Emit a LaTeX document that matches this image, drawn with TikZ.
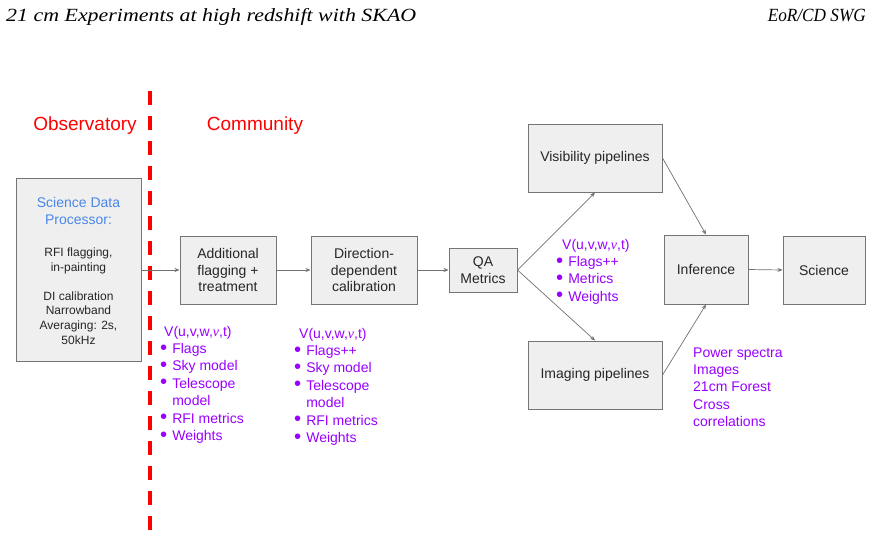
\documentclass[tikz,border=0pt]{standalone}
\usepackage{fontspec}
\setmainfont{Liberation Sans}
\newfontfamily\serifit{Liberation Serif}
\usetikzlibrary{arrows.meta}
\definecolor{boxfill}{HTML}{EFEFEF}
\definecolor{boxline}{HTML}{757575}
\definecolor{linegray}{HTML}{707070}
\definecolor{purp}{HTML}{9900FF}
\definecolor{sdpblue}{HTML}{4A86E8}
\definecolor{redline}{HTML}{FF0000}
\newcommand{\visfun}{V(u,v,w,{\serifit\itshape ν},t)}
\newcommand{\blt}{\raisebox{-0.6pt}{\scalebox{1.45}{\textbullet}}}
\begin{document}
\begin{tikzpicture}[x=1pt,y=-1pt,
  procbox/.style={draw=boxline,line width=1pt,fill=boxfill,inner sep=0pt,align=center,
    font=\fontsize{14}{16.5}\selectfont,text=black!85},
  conn/.style={draw=linegray,line width=0.7pt,-{Stealth[length=5pt,width=4pt]}},
  purplist/.style={inner sep=0pt,anchor=base west,text=purp,font=\fontsize{14}{17.4}\selectfont},
  headtxt/.style={inner sep=0pt,font=\serifit\itshape\fontsize{18.6}{22}\selectfont},
  sidetxt/.style={inner sep=0pt,text=redline,font=\fontsize{19}{22}\selectfont}]
\useasboundingbox (0,0) rectangle (872,536);
% header
\node[headtxt,anchor=base west] (h1) at (6,21) {\resizebox{410pt}{\height}{21 cm Experiments at high redshift with SKAO}};
\node[headtxt,anchor=base east] (h2) at (866,21) {\resizebox{98pt}{\height}{EoR/CD SWG}};
% divider
\draw[redline,line width=3.5pt,dash pattern=on 14pt off 11pt] (150,91) coordinate (dtop) -- (150,531) coordinate (dbot);
\node[sidetxt] (obs) at (85,126) {Observatory};
\node[sidetxt] (com) at (255,126) {Community};
% boxes
\node[procbox,minimum width=125pt,minimum height=183pt] (sdp) at (78.5,270) {};
\node[inner sep=0pt,align=center,text=sdpblue,font=\fontsize{14}{17}\selectfont] (sdpt) at (78.5,211) {Science Data\\Processor:};
\node[inner sep=0pt,align=center,text=black!85,font=\fontsize{12}{15}\selectfont] (sdpa) at (78.5,260.5) {RFI flagging,\\in-painting};
\node[inner sep=0pt,align=center,text=black!85,font=\fontsize{12}{14.6}\selectfont] (sdpb) at (78.5,318) {DI calibration\\Narrowband\\Averaging: 2s,\\50kHz};
\node[procbox,minimum width=96pt,minimum height=68pt] (add) at (228,270) {Additional\\flagging +\\treatment};
\node[procbox,minimum width=106pt,minimum height=68pt] (ddc) at (364,270) {Direction-\\dependent\\calibration};
\node[procbox,minimum width=68pt,minimum height=44pt,font=\fontsize{14}{17}\selectfont] (qa) at (483,270) {QA\\Metrics};
\node[procbox,minimum width=134pt,minimum height=68pt] (vis) at (595,158) {Visibility pipelines};
\node[procbox,minimum width=134pt,minimum height=68pt] (img) at (595,375) {Imaging pipelines};
\node[procbox,minimum width=84pt,minimum height=69pt] (inf) at (706,269.5) {Inference};
\node[procbox,minimum width=82pt,minimum height=68pt] (sci) at (824,270) {Science};
% connectors
\draw[conn] (sdp.east) -- (add.west);
\draw[conn] (add.east) -- (ddc.west);
\draw[conn] (ddc.east) -- (qa.west);
\draw[conn] (qa.east) -- (vis.south);
\draw[conn] (qa.east) -- (img.north);
\draw[conn] (vis.east) -- (inf.north);
\draw[conn] (img.east) -- (inf.south);
\draw[conn] (inf.east) -- (sci.west);
% purple lists
\node[purplist] (l1) at (160,336) {\begin{tabular}[t]{@{}l@{\hspace{5pt}}l@{}}
\multicolumn{2}{@{\hspace{4pt}}l}{\visfun}\\
\blt & Flags\\
\blt & Sky model\\
\blt & Telescope\\
 & model\\
\blt & RFI metrics\\
\blt & Weights
\end{tabular}};
\node[purplist] (l2) at (294,338) {\begin{tabular}[t]{@{}l@{\hspace{5pt}}l@{}}
\multicolumn{2}{@{\hspace{5pt}}l}{\visfun}\\
\blt & Flags++\\
\blt & Sky model\\
\blt & Telescope\\
 & model\\
\blt & RFI metrics\\
\blt & Weights
\end{tabular}};
\node[purplist] (l3) at (556,249) {\begin{tabular}[t]{@{}l@{\hspace{5pt}}l@{}}
\multicolumn{2}{@{\hspace{6pt}}l}{\visfun}\\
\blt & Flags++\\
\blt & Metrics\\
\blt & Weights
\end{tabular}};
\node[purplist] (l4) at (693,357) {\begin{tabular}[t]{@{}l@{}}
Power spectra\\
Images\\
21cm Forest\\
Cross\\
correlations
\end{tabular}};
\end{tikzpicture}
\end{document}
